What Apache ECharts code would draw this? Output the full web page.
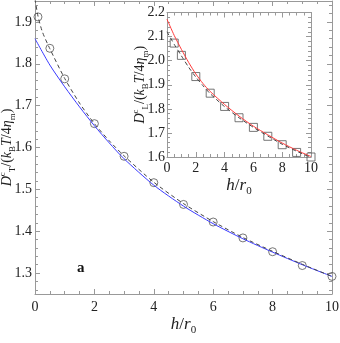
<!DOCTYPE html>
<html>
<head>
<meta charset="utf-8">
<script src="https://cdn.jsdelivr.net/npm/echarts@6/dist/echarts.min.js"></script>
<style>
  html, body { margin: 0; padding: 0; background: #fff; }
  #chart { width: 340px; height: 343px; }
</style>
</head>
<body>
<div id="chart"></div>
<script>
// main panel: transverse coefficient vs h/r0
const mainCurveH = [0, 0.5, 1, 1.5, 2, 2.5, 3, 4, 5, 6, 7, 8, 9, 10];
const mainBlue = [1.860, 1.797, 1.745, 1.697, 1.652, 1.611, 1.573, 1.510, 1.460, 1.418, 1.382, 1.350, 1.320, 1.292];
const mainDashH = [0, 0.1, 0.25, 0.5, 1, 1.5, 2, 2.5, 3, 4, 5, 6, 7, 8, 9, 10];
const mainDash = [1.955, 1.914, 1.876, 1.836, 1.765, 1.706, 1.657, 1.616, 1.580, 1.517, 1.466, 1.423, 1.385, 1.352, 1.321, 1.292];
const circleH = [0.1, 0.5, 1, 2, 3, 4, 5, 6, 7, 8, 9, 10];
const circleVals = [1.912, 1.837, 1.764, 1.657, 1.579, 1.516, 1.464, 1.422, 1.384, 1.351, 1.318, 1.292];
const mainYTicks = [1.3, 1.4, 1.5, 1.6, 1.7, 1.8, 1.9];

// inset: longitudinal coefficient
const insetH = [0, 0.5, 1, 1.5, 2, 2.5, 3, 4, 5, 6, 7, 8, 9, 10];
const insetRed = [2.172, 2.105, 2.047, 1.993, 1.945, 1.905, 1.872, 1.818, 1.770, 1.728, 1.692, 1.658, 1.628, 1.602];
const insetDash = [2.120, 2.068, 2.020, 1.973, 1.932, 1.896, 1.863, 1.809, 1.763, 1.723, 1.687, 1.653, 1.624, 1.598];
const squareH = [0.5, 1, 2, 3, 4, 5, 6, 7, 8, 9, 10];
const squareVals = [2.073, 2.022, 1.934, 1.865, 1.810, 1.763, 1.723, 1.686, 1.651, 1.619, 1.600];

const serif = 'Liberation Serif';
const axisGray = '#999';
const textCol = '#222';

const pairs = (xs, ys) => xs.map((x, i) => [x, ys[i]]);

// minor tick positions for the main y axis (every 0.02)
const mainYMinor = [];
for (let k = 63; k <= 97; k++) mainYMinor.push(+(k * 0.02).toFixed(2));

function richStyles(big, small, lh) {
  return {
    i: { fontFamily: serif, fontStyle: 'italic', fontSize: big, color: textCol, lineHeight: lh },
    n: { fontFamily: serif, fontSize: big, color: textCol, lineHeight: lh },
    sp: { fontFamily: serif, fontSize: small, color: textCol, verticalAlign: 'top', lineHeight: small + 1 },
    sb: { fontFamily: serif, fontSize: small, color: textCol, verticalAlign: 'bottom', lineHeight: small + 1 }
  };
}
const richX = richStyles(17, 11, 22);
const richY = richStyles(14, 9, 19);
const hName = '{i|h}{n|/}{i|r}{sb|0}';
const dName = (s) => '{i|D}{sp|c}{sb|' + s + '}{n|/(}{i|k}{sb|B}{i|T}{n|/4}{i|η}{sb|m}{n|)}';

function xAx(grid, pos, labels, extra) {
  return Object.assign({
    type: 'value', gridIndex: grid, position: pos, min: 0, max: 10, interval: 2,
    axisLine: { onZero: false, lineStyle: { color: axisGray, width: 1 } },
    axisTick: { inside: true, length: 5, lineStyle: { color: axisGray } },
    minorTick: { show: true, splitNumber: 4, length: 3, lineStyle: { color: axisGray } },
    axisLabel: { show: labels, color: textCol, fontFamily: serif, fontSize: 14, margin: 6 },
    splitLine: { show: false },
    nameMoveOverlap: false
  }, extra || {});
}

function yAx(grid, pos, extra) {
  return Object.assign({
    type: 'value', gridIndex: grid, position: pos,
    axisLine: { onZero: false, lineStyle: { color: axisGray, width: 1 } },
    axisTick: { inside: true, length: 5, lineStyle: { color: axisGray } },
    axisLabel: { show: false },
    splitLine: { show: false },
    nameMoveOverlap: false
  }, extra);
}

const lineCommon = { smooth: 0.25, showSymbol: false };

const chart = echarts.init(document.getElementById('chart'));
chart.setOption({
  animation: false,
  backgroundColor: '#fff',
  grid: [
    { left: 35, right: 8, top: 1, bottom: 49, outerBoundsMode: 'none', containLabel: false },
    {
      left: 167, top: 12.5, width: 144, height: 144.5, outerBoundsMode: 'none', containLabel: false,
      show: true, backgroundColor: '#fff', borderWidth: 0
    }
  ],
  xAxis: [
    xAx(0, 'bottom', true, {
      name: hName, nameLocation: 'middle', nameGap: 20, nameTextStyle: { rich: richX }
    }),
    xAx(0, 'top', false),
    xAx(1, 'bottom', true, {
      axisLabel: { color: textCol, fontFamily: serif, fontSize: 14, margin: 4 },
      name: hName, nameLocation: 'middle', nameGap: 18, nameTextStyle: { rich: richX }
    }),
    xAx(1, 'top', false)
  ],
  yAxis: [
    yAx(0, 'left', {
      min: 1.25, max: 1.95,
      axisTick: { inside: true, length: 5, customValues: mainYTicks, lineStyle: { color: axisGray } },
      axisLabel: {
        show: true, customValues: mainYTicks, color: textCol, fontFamily: serif, fontSize: 14, margin: 3,
        formatter: (v) => v.toFixed(1)
      },
      name: dName('T'), nameLocation: 'middle', nameGap: 18, nameRotate: 90,
      nameTextStyle: { rich: richY }
    }),
    yAx(0, 'right', {
      min: 1.25, max: 1.95,
      axisTick: { inside: true, length: 5, customValues: mainYTicks, lineStyle: { color: axisGray } }
    }),
    yAx(0, 'left', {
      min: 1.25, max: 1.95,
      axisLine: { show: false, onZero: false },
      axisTick: { inside: true, length: 3, customValues: mainYMinor, lineStyle: { color: axisGray } }
    }),
    yAx(0, 'right', {
      min: 1.25, max: 1.95,
      axisLine: { show: false, onZero: false },
      axisTick: { inside: true, length: 3, customValues: mainYMinor, lineStyle: { color: axisGray } }
    }),
    yAx(1, 'left', {
      min: 1.6, max: 2.2, interval: 0.1,
      minorTick: { show: true, splitNumber: 5, length: 3, lineStyle: { color: axisGray } },
      axisLabel: {
        show: true, color: textCol, fontFamily: serif, fontSize: 14, margin: 2,
        formatter: (v) => v.toFixed(1)
      },
      name: dName('L'), nameLocation: 'middle', nameGap: 17, nameRotate: 90,
      nameTextStyle: { rich: richY }
    }),
    yAx(1, 'right', {
      min: 1.6, max: 2.2, interval: 0.1,
      minorTick: { show: true, splitNumber: 5, length: 3, lineStyle: { color: axisGray } }
    })
  ],
  graphic: [
    {
      type: 'text', left: 77, top: 261,
      style: { text: 'a', fontFamily: serif, fontWeight: 'bold', fontSize: 15, fill: '#111' }
    }
  ],
  series: [
    Object.assign({
      type: 'line', xAxisIndex: 0, yAxisIndex: 0, data: pairs(mainCurveH, mainBlue),
      lineStyle: { color: '#3b3bff', width: 1 }
    }, lineCommon),
    Object.assign({
      type: 'line', xAxisIndex: 0, yAxisIndex: 0, data: pairs(mainDashH, mainDash),
      lineStyle: { color: '#444', width: 1, type: [4, 3] }
    }, lineCommon),
    {
      type: 'scatter', xAxisIndex: 0, yAxisIndex: 0, data: pairs(circleH, circleVals),
      symbol: 'circle', symbolSize: 8,
      itemStyle: { color: 'rgba(0,0,0,0)', borderColor: '#555', borderWidth: 1 }
    },
    Object.assign({
      type: 'line', xAxisIndex: 2, yAxisIndex: 4, data: pairs(insetH, insetRed),
      lineStyle: { color: '#ff3b3b', width: 1 }
    }, lineCommon),
    Object.assign({
      type: 'line', xAxisIndex: 2, yAxisIndex: 4, data: pairs(insetH, insetDash),
      lineStyle: { color: '#444', width: 1, type: [4, 3] }
    }, lineCommon),
    {
      type: 'scatter', xAxisIndex: 2, yAxisIndex: 4, data: pairs(squareH, squareVals),
      symbol: 'rect', symbolSize: 8,
      itemStyle: { color: 'rgba(0,0,0,0)', borderColor: '#555', borderWidth: 1 }
    }
  ]
});
</script>
</body>
</html>
